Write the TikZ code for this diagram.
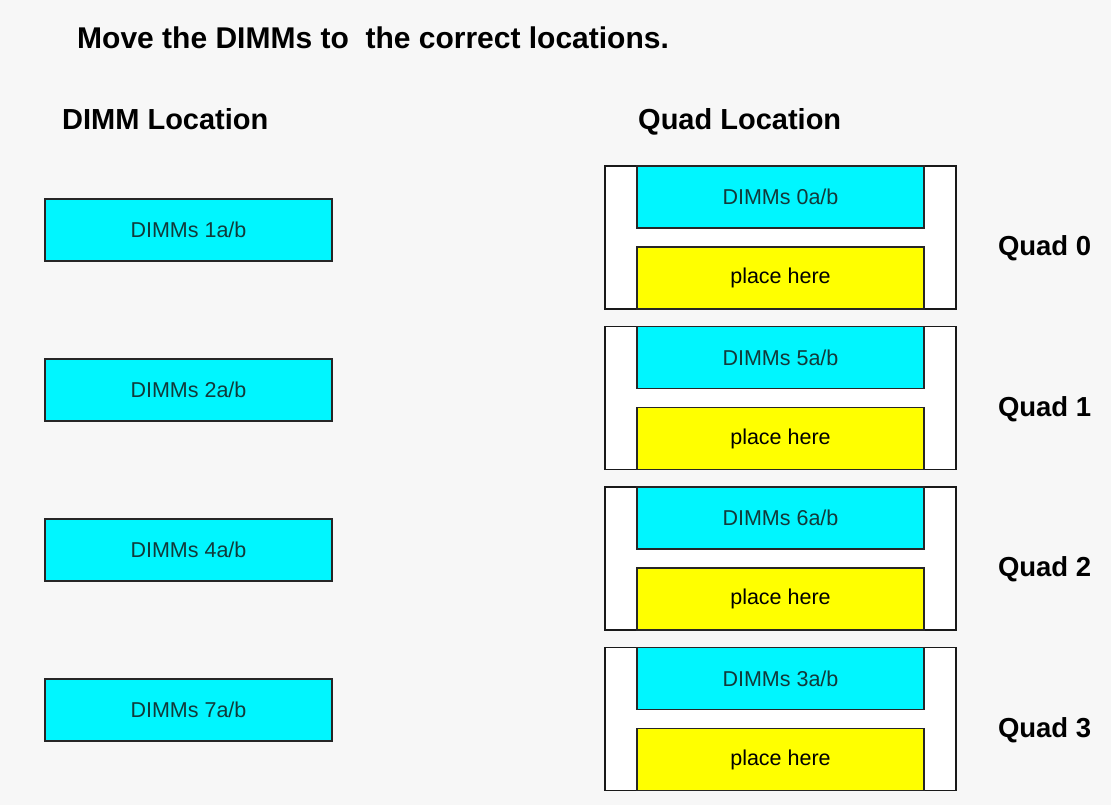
\documentclass[tikz,border=0pt]{standalone}
\usepackage{fontspec}
\setmainfont{Liberation Sans}
\usetikzlibrary{positioning}
\definecolor{bggray}{HTML}{F7F7F7}
\definecolor{dimmcyan}{HTML}{00F6FF}
\definecolor{slotyellow}{HTML}{FFFF00}
\definecolor{dimmtext}{HTML}{123A3A}
\tikzset{
  dimm/.style={draw=black!85,line width=1.6pt,fill=dimmcyan,minimum width=287pt,minimum height=62pt,inner sep=0pt,text=dimmtext,font=\fontsize{21.5}{24}\selectfont},
  slot/.style={dimm,fill=slotyellow,text=black},
  quadframe/.style={draw=black!90,line width=1.6pt,fill=white,minimum width=351pt,minimum height=143pt,inner sep=0pt},
  heading/.style={font=\bfseries\fontsize{29}{34}\selectfont,inner sep=0pt,anchor=base west},
  quadlabel/.style={font=\bfseries\fontsize{27.5}{32}\selectfont,inner sep=0pt}
}
\begin{document}
\begin{tikzpicture}[x=1pt,y=-1pt]
\fill[bggray] (0,0) rectangle (1111,805);
\useasboundingbox (0,0) rectangle (1111,805);
\node[heading,font=\bfseries\fontsize{30}{36}\selectfont] (title) at (77,49) {Move the DIMMs to\ \ the correct locations.};
\node[heading] (dimmhead) at (62,130) {DIMM Location};
\node[heading] (quadhead) at (638,130) {Quad Location};
\foreach \n [count=\i from 0] in {1,2,4,7}
  \node[dimm] (dimm\n) at (188.5,230+160*\i) {DIMMs \n a/b};
\foreach \q/\n in {0/0,1/5,2/6,3/3} {
  \node[quadframe] (quad\q) at (780.5,237.5+160.5*\q) {};
  \node[dimm,anchor=north] (qdimm\q) at (quad\q.north) {DIMMs \n a/b};
  \node[slot,anchor=south] (slot\q) at (quad\q.south) {place here};
  \node[quadlabel,right=41pt of quad\q,yshift=-11pt] (qlabel\q) {Quad \q};
}
\end{tikzpicture}
\end{document}
